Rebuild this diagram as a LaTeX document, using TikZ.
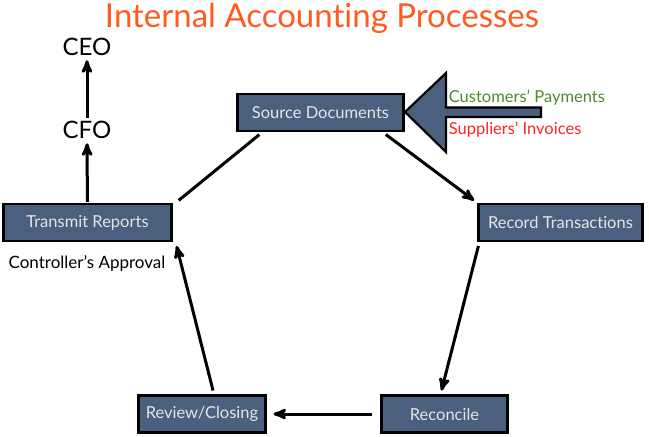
\documentclass[tikz,border=0pt]{standalone}
\usepackage{fontspec}
\setmainfont{Lato}[Ligatures=NoCommon]
\usepackage{tikz}
\usetikzlibrary{arrows,positioning}

\definecolor{slate}{HTML}{4B5F7E}
\definecolor{titleorange}{HTML}{FF5A1F}
\definecolor{paygreen}{HTML}{4E8A2A}
\definecolor{invred}{HTML}{FF2525}

\begin{document}
\begin{tikzpicture}[x=1pt,y=-1pt,->,>=stealth',shorten >=4pt,shorten <=4pt,
			line width=3pt,
			proc node/.style={rectangle,draw=black,fill=slate,line width=2.2pt,
				text=white!90!black,font=\fontsize{16.5}{18}\selectfont,
				minimum height=37pt,inner sep=2pt},
			exec node/.style={font=\fontsize{24}{26}\selectfont,inner sep=1pt}]
			\useasboundingbox (0,0) rectangle (649,437);
			\node[font=\fontsize{33}{38}\selectfont, text=titleorange] (title) at (322,18) {Internal Accounting Processes};
			
			\node[proc node, minimum width=166pt] (src) at (320.5,112.5) {Source Documents};
			\node[proc node, minimum width=164pt] (rec) at (560.5,222.5) {Record Transactions};
			\node[proc node, minimum width=126pt] (rcn) at (444.5,414) {Reconcile};
			\node[proc node, minimum width=127pt] (rev) at (202,414) {Review/Closing};
			\node[proc node, minimum width=168pt] (trans) at (87.5,222.5) {Transmit Reports};
			
			\node[exec node] (cfo) at (87,130) {CFO};
			\node[exec node] (ceo) at (87,47) {CEO};
			\node[font=\fontsize{17}{19}\selectfont] (appr) at (87,263) {Controller's Approval};
			
			% incoming documents
			\draw[-,fill=slate,line width=2.2pt,shorten >=0pt,shorten <=0pt]
			(405,112) -- (446,73) -- (446,107.5) -- (541,107.5) -- (541,117)
			-- (446,117) -- (446,152) -- cycle;
			\node[anchor=west, text=paygreen, font=\fontsize{16.5}{18}\selectfont] (pay) at (444,98) {Customers' Payments};
			\node[anchor=west, text=invred, font=\fontsize{16.5}{18}\selectfont] (inv) at (444,130) {Suppliers' Invoices};
			
			% the cycle
			\draw ([xshift=-22pt]src.south east) -- (rec.north west);
			\draw ([xshift=2pt]rec.south west) -- ([xshift=-4pt]rcn.north);
			\draw[shorten <=8pt,shorten >=7pt] (rcn.west) -- (rev.east);
			\draw ([xshift=12pt]rev.north) -- ([xshift=3pt]trans.south east);
			\draw[-] ([xshift=3pt]trans.north east) -- ([xshift=26pt]src.south west);
			
			% reporting chain
			\draw[shorten <=1pt,shorten >=2pt] (trans) -- (cfo);
			\draw[shorten <=1pt,shorten >=2pt] (cfo) -- (ceo);
		\end{tikzpicture}
\end{document}
